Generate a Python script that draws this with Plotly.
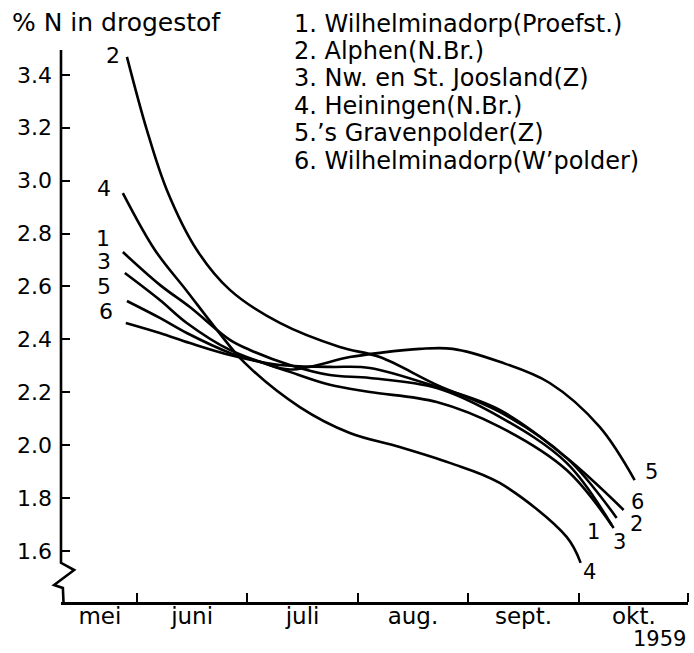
import plotly.graph_objects as go

# ---- axis data ----
months = ["mei", "juni", "juli", "aug.", "sept.", "okt."]
month_centers = [0.665, 1.5, 2.5, 3.5, 4.5, 5.5]
month_bounds = [1, 2, 3, 4, 5, 5.99]
y_tickvals = [1.6, 1.8, 2.0, 2.2, 2.4, 2.6, 2.8, 3.0, 3.2, 3.4]
y_ticktext = ["1.6", "1.8", "2.0", "2.2", "2.4", "2.6", "2.8", "3.0", "3.2", "3.4"]

legend_lines = [
    "1. Wilhelminadorp(Proefst.)",
    "2. Alphen(N.Br.)",
    "3. Nw. en St. Joosland(Z)",
    "4. Heiningen(N.Br.)",
    "5.\u2019s Gravenpolder(Z)",
    "6. Wilhelminadorp(W\u2019polder)",
]

# ---- series (x in months, 1 = start of juni) ----
x1 = [0.873, 1.208, 1.480, 1.842, 2.023, 2.385, 2.747, 3.109, 3.715, 4.285, 4.891, 5.299]
y1 = [2.730, 2.606, 2.522, 2.398, 2.360, 2.303, 2.265, 2.254, 2.216, 2.107, 1.933, 1.698]

x2 = [0.910, 1.090, 1.271, 1.543, 1.842, 2.294, 2.837, 3.199, 3.715, 4.285, 4.891, 5.344]
y2 = [3.468, 3.192, 2.965, 2.738, 2.587, 2.462, 2.371, 2.333, 2.228, 2.126, 1.952, 1.725]

x3 = [0.891, 1.208, 1.452, 1.842, 2.385, 2.747, 3.109, 3.715, 4.285, 4.891, 5.317]
y3 = [2.651, 2.549, 2.462, 2.360, 2.277, 2.228, 2.201, 2.163, 2.069, 1.906, 1.687]

x4 = [0.873, 1.163, 1.452, 1.724, 1.977, 2.475, 2.928, 3.380, 3.833, 4.285, 4.891, 5.018]
y4 = [2.953, 2.738, 2.583, 2.436, 2.311, 2.144, 2.046, 1.993, 1.933, 1.857, 1.653, 1.555]

x5 = [0.910, 1.208, 1.452, 1.842, 2.113, 2.385, 2.928, 3.199, 3.561, 3.860, 4.285, 4.738, 5.190, 5.507]
y5 = [2.545, 2.481, 2.424, 2.349, 2.315, 2.286, 2.333, 2.349, 2.364, 2.364, 2.315, 2.235, 2.069, 1.868]

x6 = [0.900, 1.208, 1.480, 1.842, 2.294, 2.747, 3.109, 3.715, 4.285, 4.891, 5.407]
y6 = [2.462, 2.424, 2.386, 2.341, 2.303, 2.296, 2.292, 2.220, 2.133, 1.952, 1.755]

series_x = [x1, x2, x3, x4, x5, x6]
series_y = [y1, y2, y3, y4, y5, y6]
series_ids = ["1", "2", "3", "4", "5", "6"]

# curve number labels (left start / right end)
left_lab_x = [0.692, 0.783, 0.701, 0.701, 0.701, 0.719]
left_lab_y = [2.783, 3.475, 2.693, 2.972, 2.598, 2.507]
right_lab_x = [5.136, 5.525, 5.371, 5.100, 5.661, 5.534]
right_lab_y = [1.672, 1.702, 1.634, 1.521, 1.899, 1.785]

FONT = "DejaVu Sans"
X_RANGE = [0.313, 5.99]
Y_RANGE = [1.407, 3.494]

fig = go.Figure()
for xs, ys, sid in zip(series_x, series_y, series_ids):
    fig.add_trace(go.Scatter(
        x=xs, y=ys, mode="lines", name=sid,
        line=dict(color="black", width=2.6, shape="spline", smoothing=1.0),
        hoverinfo="skip", showlegend=False,
    ))

annotations = []
for sid, lx, ly in zip(series_ids, left_lab_x, left_lab_y):
    annotations.append(dict(x=lx, y=ly, xref="x", yref="y", text=sid, showarrow=False,
                            font=dict(family=FONT, size=22, color="black")))
for sid, lx, ly in zip(series_ids, right_lab_x, right_lab_y):
    annotations.append(dict(x=lx, y=ly, xref="x", yref="y", text=sid, showarrow=False,
                            font=dict(family=FONT, size=21, color="black")))

# legend text block (pixel rows converted to paper coordinates; plot area 50..602 px)
legend_rows_px = [24, 51, 78, 106, 133, 161]
for txt, py in zip(legend_lines, legend_rows_px):
    annotations.append(dict(x=(292 - 61) / 627, y=(602 - py) / 552, xref="paper", yref="paper",
                            xanchor="left", yanchor="middle", text=txt, showarrow=False,
                            font=dict(family=FONT, size=24, color="black")))

# y axis title
annotations.append(dict(x=(10 - 61) / 627, y=(602 - 23) / 552, xref="paper", yref="paper",
                        xanchor="left", yanchor="middle", text="% N in drogestof", showarrow=False,
                        font=dict(family=FONT, size=25, color="black")))
# year
annotations.append(dict(x=1.0, y=(602 - 639) / 552, xref="paper", yref="paper",
                        xanchor="right", yanchor="middle", text="1959", showarrow=False,
                        font=dict(family=FONT, size=21, color="black")))

# y axis line with break symbol
shapes = [dict(type="path", xref="paper", yref="y",
               path="M 0,3.494 L 0,1.555 L 0.021,1.528 L -0.011,1.471 L 0.003,1.460 L 0.004,1.407",
               line=dict(color="black", width=2.6))]

fig.update_layout(
    width=694, height=653,
    margin=dict(l=61, r=6, t=50, b=51),
    paper_bgcolor="white", plot_bgcolor="white",
    font=dict(family=FONT, size=22, color="black"),
    annotations=annotations, shapes=shapes,
)
fig.update_xaxes(
    range=X_RANGE, showgrid=False, zeroline=False,
    showline=True, linecolor="black", linewidth=2.6,
    tickmode="array", tickvals=month_centers, ticktext=months,
    ticks="", tickfont=dict(family=FONT, size=23), ticklabelstandoff=-8,
    minor=dict(tickmode="array", tickvals=month_bounds, ticks="inside", ticklen=9,
               tickwidth=2.2, tickcolor="black", showgrid=False),
)
fig.update_yaxes(
    range=Y_RANGE, showgrid=False, zeroline=False, showline=False,
    tickmode="array", tickvals=y_tickvals, ticktext=y_ticktext,
    ticks="inside", ticklen=9, tickwidth=2.2, tickcolor="black",
    tickfont=dict(family=FONT, size=22), ticklabelstandoff=8,
)

fig.write_html("out.html")
